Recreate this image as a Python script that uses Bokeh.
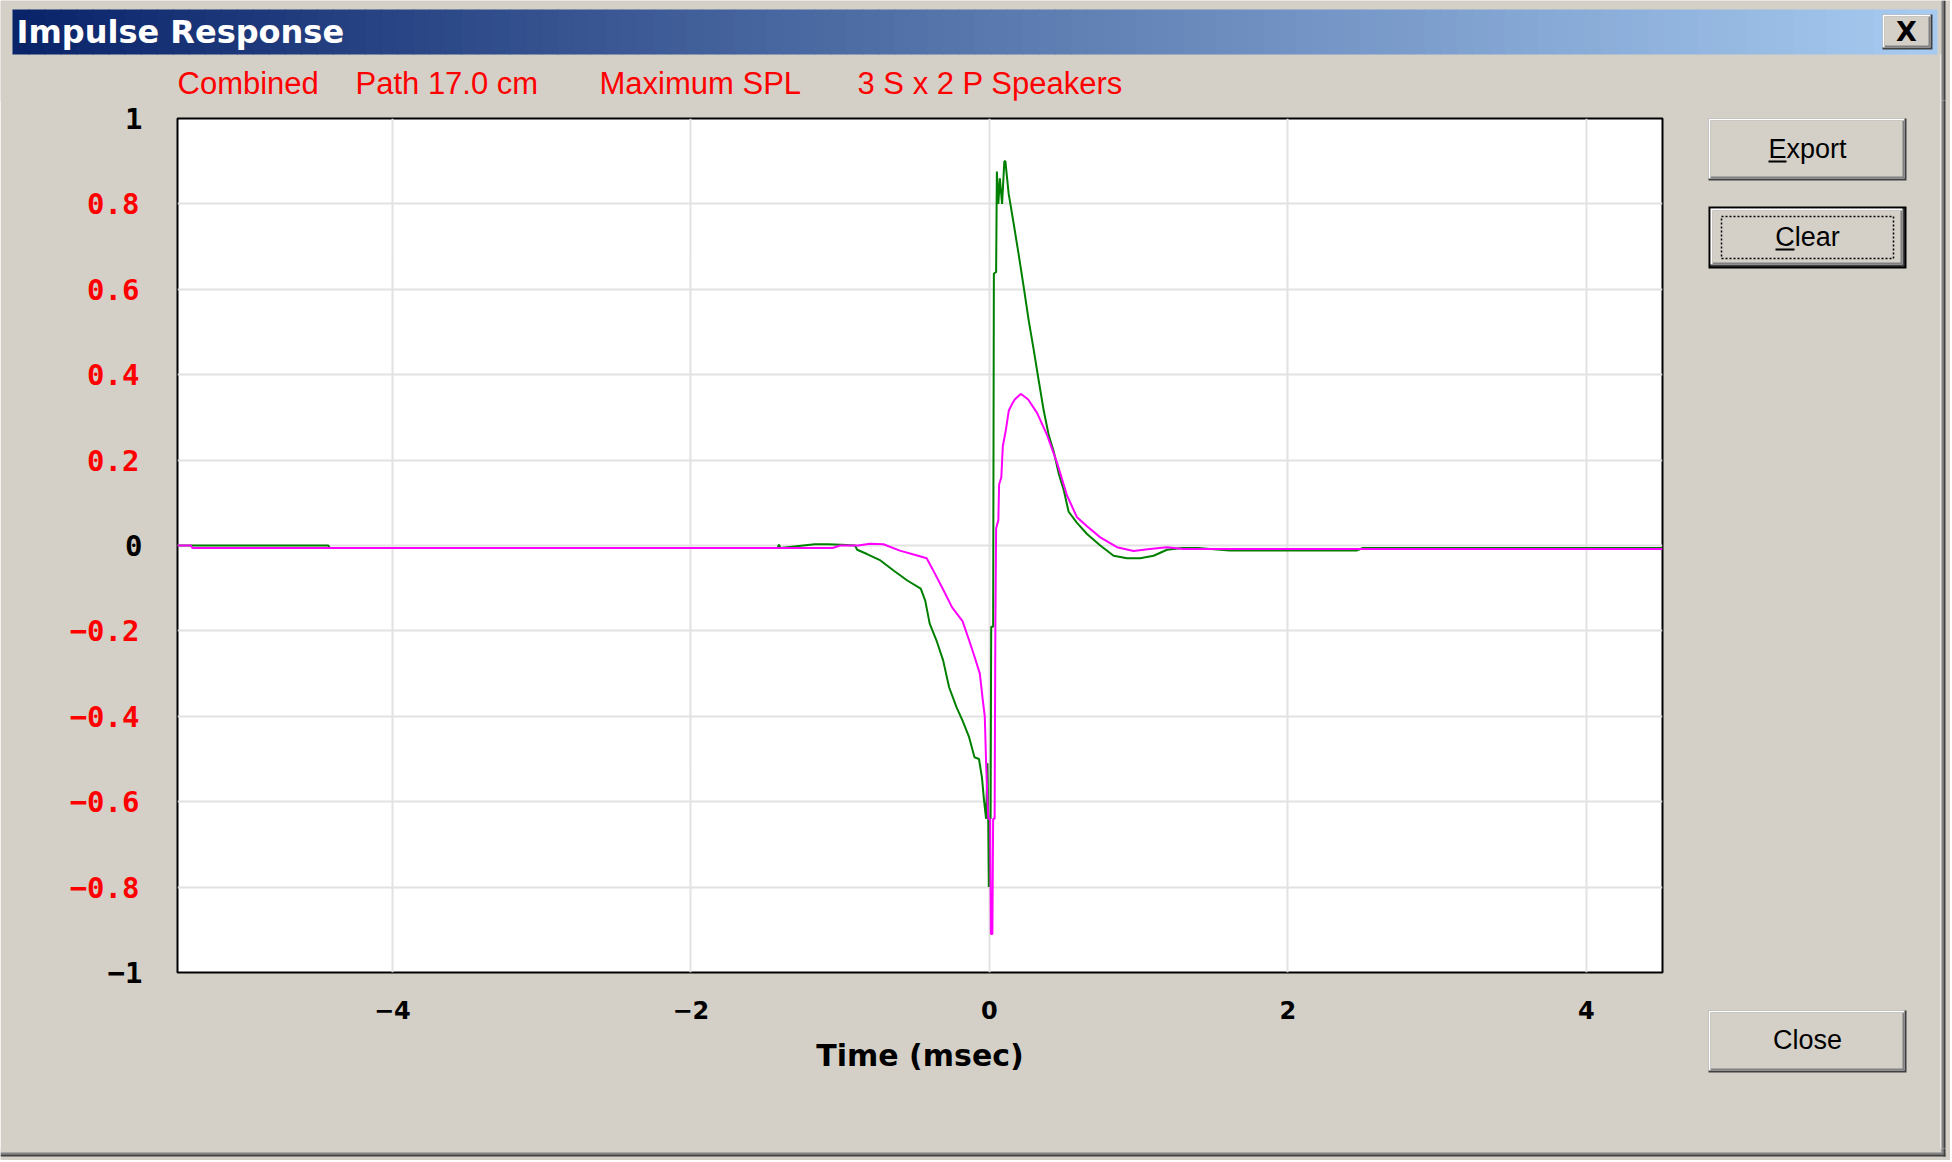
from bokeh.plotting import figure
from bokeh.layouts import column, row
from bokeh.models import Range1d, FixedTicker, CustomJSTickFormatter, LinearAxis
from bokeh.core.properties import value
from bokeh.embed import file_html
from bokeh.resources import INLINE

# ---------------- data ----------------
green_t = [-5.44, -4.43, -4.42, -1.42, -1.41, -1.40, -1.17, -1.08, -0.99, -0.90,
           -0.886, -0.82, -0.73, -0.64, -0.55, -0.46, -0.43, -0.40, -0.355, -0.31,
           -0.27, -0.22, -0.18, -0.136, -0.10, -0.07, -0.05, -0.036, -0.022, -0.013,
           -0.008, -0.004, 0.0, 0.008, 0.012, 0.025, 0.03, 0.045, 0.05, 0.06,
           0.07, 0.085, 0.10, 0.107, 0.129, 0.163, 0.196, 0.230, 0.263, 0.297,
           0.33, 0.364, 0.397, 0.431, 0.464, 0.498, 0.531, 0.587, 0.654, 0.743,
           0.832, 0.922, 1.01, 1.10, 1.19, 1.29, 1.40, 1.61, 2.46, 2.50, 4.51]
green_amp = [0.0, 0.0, -0.006, -0.006, 0.002, -0.006, 0.003, 0.003, 0.002, 0.0,
             -0.01, -0.02, -0.035, -0.059, -0.082, -0.101, -0.129, -0.183, -0.222, -0.269,
             -0.332, -0.379, -0.41, -0.449, -0.496, -0.50, -0.543, -0.597, -0.64, -0.51,
             -0.64, -0.80, -0.64, -0.64, -0.19, -0.19, 0.637, 0.64, 0.876, 0.80,
             0.86, 0.80, 0.90, 0.90, 0.824, 0.753, 0.682, 0.605, 0.528, 0.458,
             0.387, 0.316, 0.259, 0.220, 0.169, 0.130, 0.079, 0.053, 0.027, 0.0,
             -0.024, -0.030, -0.030, -0.024, -0.01, -0.006, -0.006, -0.012, -0.012, -0.006, -0.006]

magenta_t = [-5.44, -5.35, -5.34, -1.05, -1.0, -0.88, -0.80, -0.71, -0.60, -0.49,
             -0.42, -0.38, -0.31, -0.25, -0.18, -0.136, -0.10, -0.064, -0.045, -0.031,
             -0.022, -0.015, -0.007, 0.005, 0.010, 0.020, 0.025, 0.035, 0.040, 0.045,
             0.060, 0.065, 0.080, 0.090, 0.110, 0.130, 0.150, 0.170, 0.210, 0.230,
             0.260, 0.320, 0.386, 0.453, 0.520, 0.587, 0.654, 0.743, 0.855, 0.966,
             1.06, 1.19, 1.30, 4.51]
magenta_amp = [0.0, 0.0, -0.006, -0.006, 0.0, 0.0, 0.004, 0.003, -0.012, -0.023,
               -0.03, -0.056, -0.103, -0.145, -0.177, -0.222, -0.26, -0.30, -0.36, -0.40,
               -0.51, -0.58, -0.64, -0.64, -0.91, -0.91, -0.64, -0.64, -0.19, 0.04,
               0.06, 0.143, 0.16, 0.233, 0.27, 0.316, 0.33, 0.342, 0.355, 0.350,
               0.342, 0.310, 0.259, 0.194, 0.117, 0.066, 0.045, 0.019, -0.004, -0.013,
               -0.009, -0.004, -0.008, -0.008]

x_ticks = [-4, -2, 0, 2, 4]
y_black_ticks = [-1.0, 0.0, 1.0]
y_red_ticks = [-0.8, -0.6, -0.4, -0.2, 0.2, 0.4, 0.6, 0.8]
y_grid_ticks = [-1.0, -0.8, -0.6, -0.4, -0.2, 0.0, 0.2, 0.4, 0.6, 0.8, 1.0]
header_parts = ["Combined", "Path 17.0 cm", "Maximum SPL", "3 S x 2 P Speakers"]
window_title = "Impulse Response"
x_label = "Time (msec)"
button_labels = ["Export", "Clear", "Close"]

# ---------------- geometry (pixels of the dialog) ----------------
W = 1950
BG = "#D4D0C8"
TOP_H = 101                  # title bar + header strip
MID_Y0 = TOP_H - 1           # middle row overlaps top strip by 1px (hides seams)
MID_H = 1049
BOT_Y0 = MID_Y0 + MID_H - 1
BOT_H = 12
MAIN_W = 1670
RIGHT_X0 = MAIN_W - 1
RIGHT_W = W - RIGHT_X0


def canvas_fig(width, height, x0, y0, margin=None):
    f = figure(width=width, height=height,
               x_range=Range1d(x0, x0 + width), y_range=Range1d(y0 + height, y0),
               output_backend="svg", toolbar_location=None,
               x_axis_type=None, y_axis_type=None,
               min_border=0, min_border_left=0, min_border_right=0,
               min_border_top=0, min_border_bottom=0, frame_align=False,
               background_fill_color=BG, border_fill_color=BG, outline_line_color=None)
    f.grid.visible = False
    if margin is not None:
        f.margin = margin
    return f


def rects(f, x0, y0, x1, y1, color):
    f.quad(left=[x0], right=[x1], top=[y0], bottom=[y1], fill_color=color, line_color=None)


def button3d(f, x0, y0, x1, y1):
    rects(f, x0, y0, x1, y1, "#404040")
    rects(f, x0, y0, x1 - 2, y1 - 2, "#FFFFFF")
    rects(f, x0 + 2, y0 + 2, x1 - 2, y1 - 2, "#808080")
    rects(f, x0 + 2, y0 + 2, x1 - 4, y1 - 4, BG)


def txt(f, x, y, s, size, color="black", font="Liberation Sans", style="normal",
        align="left", baseline="middle"):
    f.text(x=[x], y=[y], text=[s], text_font=value(font), text_font_size=value(f"{size}px"),
           text_font_style=value(style), text_color=color, text_align=align,
           text_baseline=baseline)


# ---------------- top strip ----------------
top = canvas_fig(W, TOP_H, 0, 0)
c0 = (10, 36, 106)
c1 = (166, 202, 240)
tx0, tx1 = 12, 1937
N = 120
lefts, rights, cols = [], [], []
for i in range(N):
    fr = i / (N - 1)
    cols.append("#%02x%02x%02x" % tuple(int(round(a + (b - a) * fr)) for a, b in zip(c0, c1)))
    lefts.append(tx0 + (tx1 - tx0) * i / N)
    rights.append(min(tx1, tx0 + (tx1 - tx0) * (i + 1) / N + 0.8))
top.quad(left=lefts, right=rights, top=[9] * N, bottom=[54] * N, fill_color=cols, line_color=None)
txt(top, 16, 31, window_title, 32, color="white", font="DejaVu Sans", style="bold")
button3d(top, 1882, 14, 1932, 49)
txt(top, 1906, 31, "X", 27, font="DejaVu Sans", style="bold", align="center")
header_x = [177, 355, 599, 857]
for hx, s in zip(header_x, header_parts):
    txt(top, hx, 83, s, 31, color="#FF0000")
rects(top, 1940, 54, 1941, TOP_H, "#FFFFFF")
rects(top, 1941, 0, 1943, TOP_H, "#808080")
rects(top, 1943, 0, 1945, TOP_H, "#404040")

# ---------------- main plot ----------------
p = figure(width=MAIN_W, height=MID_H, x_range=Range1d(-5.44, 4.51), y_range=Range1d(-1, 1),
           output_backend="svg", toolbar_location=None, frame_align=False,
           min_border_left=177, min_border_right=MAIN_W - 1662,
           min_border_top=118 - MID_Y0, min_border_bottom=(MID_Y0 + MID_H) - 972,
           background_fill_color="white", border_fill_color=BG,
           outline_line_color="black", outline_line_width=2)

p.line(green_t, green_amp, line_color="#008000", line_width=2)
p.line(magenta_t, magenta_amp, line_color="#FF00FF", line_width=2)

xa = p.xaxis[0]
xa.ticker = FixedTicker(ticks=x_ticks)
xa.formatter = CustomJSTickFormatter(code="return tick < 0 ? '\\u2212' + Math.abs(tick) : '' + tick;")
xa.major_label_text_font = "DejaVu Sans"
xa.major_label_text_font_style = "bold"
xa.major_label_text_font_size = "24px"
xa.major_label_text_color = "black"
xa.major_label_standoff = 28
xa.major_tick_out = 0
xa.major_tick_in = 0
xa.minor_tick_out = 0
xa.minor_tick_in = 0
xa.axis_line_color = None
xa.axis_label = x_label
xa.axis_label_text_font = "DejaVu Sans"
xa.axis_label_text_font_style = "bold"
xa.axis_label_text_font_size = "30px"
xa.axis_label_text_color = "black"
xa.axis_label_standoff = 16

# inner (black) y axis: 1, 0, -1
ya = p.yaxis[0]
ya.ticker = FixedTicker(ticks=y_black_ticks)
ya.formatter = CustomJSTickFormatter(code="return tick < 0 ? '\\u2212' + Math.abs(tick) : '' + tick;")
ya.major_label_text_font = "DejaVu Sans Mono"
ya.major_label_text_font_style = "bold"
ya.major_label_text_font_size = "29px"
ya.major_label_text_color = "black"
ya.major_label_standoff = 35
ya.major_tick_out = 0
ya.major_tick_in = 0
ya.minor_tick_out = 0
ya.minor_tick_in = 0
ya.axis_line_color = None

# outer (red) y axis, pulled back so its labels line up with the black ones
ry = LinearAxis(ticker=FixedTicker(ticks=y_red_ticks),
                formatter=CustomJSTickFormatter(code="return (tick < 0 ? '\\u2212' : '') + Math.abs(tick).toFixed(1);"),
                major_label_text_font="DejaVu Sans Mono", major_label_text_font_style="bold",
                major_label_text_font_size="29px", major_label_text_color="#FF0000",
                major_label_standoff=-35, major_tick_out=0, major_tick_in=0,
                minor_tick_out=0, minor_tick_in=0, axis_line_color=None)
p.add_layout(ry, "left")

p.xgrid.grid_line_color = "#E2E2E2"
p.xgrid.grid_line_width = 2
p.ygrid[0].ticker = FixedTicker(ticks=y_grid_ticks)
p.ygrid.grid_line_color = "#E2E2E2"
p.ygrid.grid_line_width = 2

# ---------------- right strip (buttons) ----------------
rgt = canvas_fig(RIGHT_W, MID_H, RIGHT_X0, MID_Y0, margin=(0, 0, 0, -1))
button3d(rgt, 1708, 118, 1906, 180)
txt(rgt, 1807, 148, button_labels[0], 27, align="center")
rects(rgt, 1768, 160, 1786, 162, "black")

rects(rgt, 1708, 206, 1906, 268, "black")
button3d(rgt, 1710, 208, 1904, 266)
rgt.quad(left=[1721], right=[1893], top=[216], bottom=[258], fill_alpha=0,
         line_color="black", line_dash="2 2", line_width=1.5)
txt(rgt, 1807, 236, button_labels[1], 27, align="center")
rects(rgt, 1775, 248, 1794, 250, "black")

button3d(rgt, 1708, 1010, 1906, 1072)
txt(rgt, 1807, 1039, button_labels[2], 27, align="center")

rects(rgt, 1940, MID_Y0, 1941, MID_Y0 + MID_H, "#FFFFFF")
rects(rgt, 1941, MID_Y0, 1943, MID_Y0 + MID_H, "#808080")
rects(rgt, 1943, MID_Y0, 1945, MID_Y0 + MID_H, "#404040")

# ---------------- bottom strip ----------------
bot = canvas_fig(W, BOT_H, 0, BOT_Y0, margin=(-1, 0, 0, 0))
rects(bot, 0, 1152, 1943, 1154, "#808080")
rects(bot, 0, 1154, 1945, 1156, "#404040")
rects(bot, 1941, BOT_Y0, 1943, 1154, "#808080")
rects(bot, 1943, BOT_Y0, 1945, 1156, "#404040")

mid = row(p, rgt, margin=(-1, 0, 0, 0))
layout = column(top, mid, bot)
open("out.html", "w").write(file_html(layout, INLINE))
